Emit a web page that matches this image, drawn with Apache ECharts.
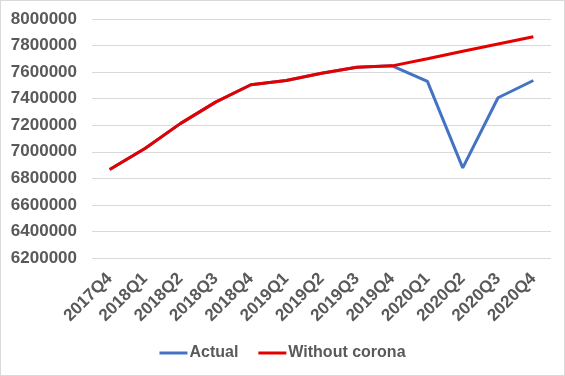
<!DOCTYPE html>
<html>
<head>
<meta charset="utf-8">
<script src="https://cdn.jsdelivr.net/npm/echarts@6/dist/echarts.min.js"></script>
<style>
  html, body { margin: 0; padding: 0; background: #fff; }
  #main { width: 565px; height: 376px; box-sizing: border-box; border: 1px solid #d9d9d9; }
</style>
</head>
<body>
<div id="main"></div>
<script>
var quarters = ['2017Q4', '2018Q1', '2018Q2', '2018Q3', '2018Q4', '2019Q1', '2019Q2',
  '2019Q3', '2019Q4', '2020Q1', '2020Q2', '2020Q3', '2020Q4'];
var actual = [6867000, 7025000, 7212000, 7374000, 7505000, 7537000, 7592000,
  7637000, 7647000, 7530000, 6879000, 7407000, 7537000];
var withoutCorona = [6867000, 7025000, 7212000, 7374000, 7505000, 7537000, 7592000,
  7637000, 7647000, 7700000, 7757000, 7812000, 7867000];

document.addEventListener('DOMContentLoaded', function() {
  var myChart = echarts.init(document.getElementById('main'));
  var textStyle = { color: '#595959', fontFamily: 'Liberation Sans', fontSize: 16, fontWeight: 'bold' };
  var axisText = Object.assign({}, textStyle, { fontSize: 17 });

  var option = {
    animation: false,
    grid: { left: 91, right: 13, top: 18, bottom: 117 },
    legend: {
      data: ['Actual', 'Without corona'],
      bottom: 9,
      left: 'center',
      icon: 'rect',
      itemWidth: 28,
      itemHeight: 3,
      itemGap: 20,
      textStyle: Object.assign({ padding: [0, 0, 0, -3] }, textStyle)
    },
    xAxis: {
      type: 'category',
      data: quarters,
      boundaryGap: true,
      axisLine: { show: false },
      axisTick: { show: false },
      axisLabel: Object.assign({ rotate: 45, interval: 0, margin: 18 }, axisText)
    },
    yAxis: {
      type: 'value',
      min: 6200000,
      max: 8000000,
      interval: 200000,
      axisLine: { show: false },
      axisTick: { show: false },
      splitLine: { lineStyle: { color: '#d9d9d9', width: 1 } },
      axisLabel: Object.assign({ margin: 15, formatter: function(v) { return String(v); } }, axisText)
    },
    series: [
      {
        name: 'Actual',
        type: 'line',
        data: actual,
        symbol: 'none',
        itemStyle: { color: '#4472C4' },
        lineStyle: { color: '#4472C4', width: 3 }
      },
      {
        name: 'Without corona',
        type: 'line',
        data: withoutCorona,
        symbol: 'none',
        itemStyle: { color: '#E50000' },
        lineStyle: { color: '#E50000', width: 3 }
      }
    ]
  };

  myChart.setOption(option);
});
</script>
</body>
</html>
